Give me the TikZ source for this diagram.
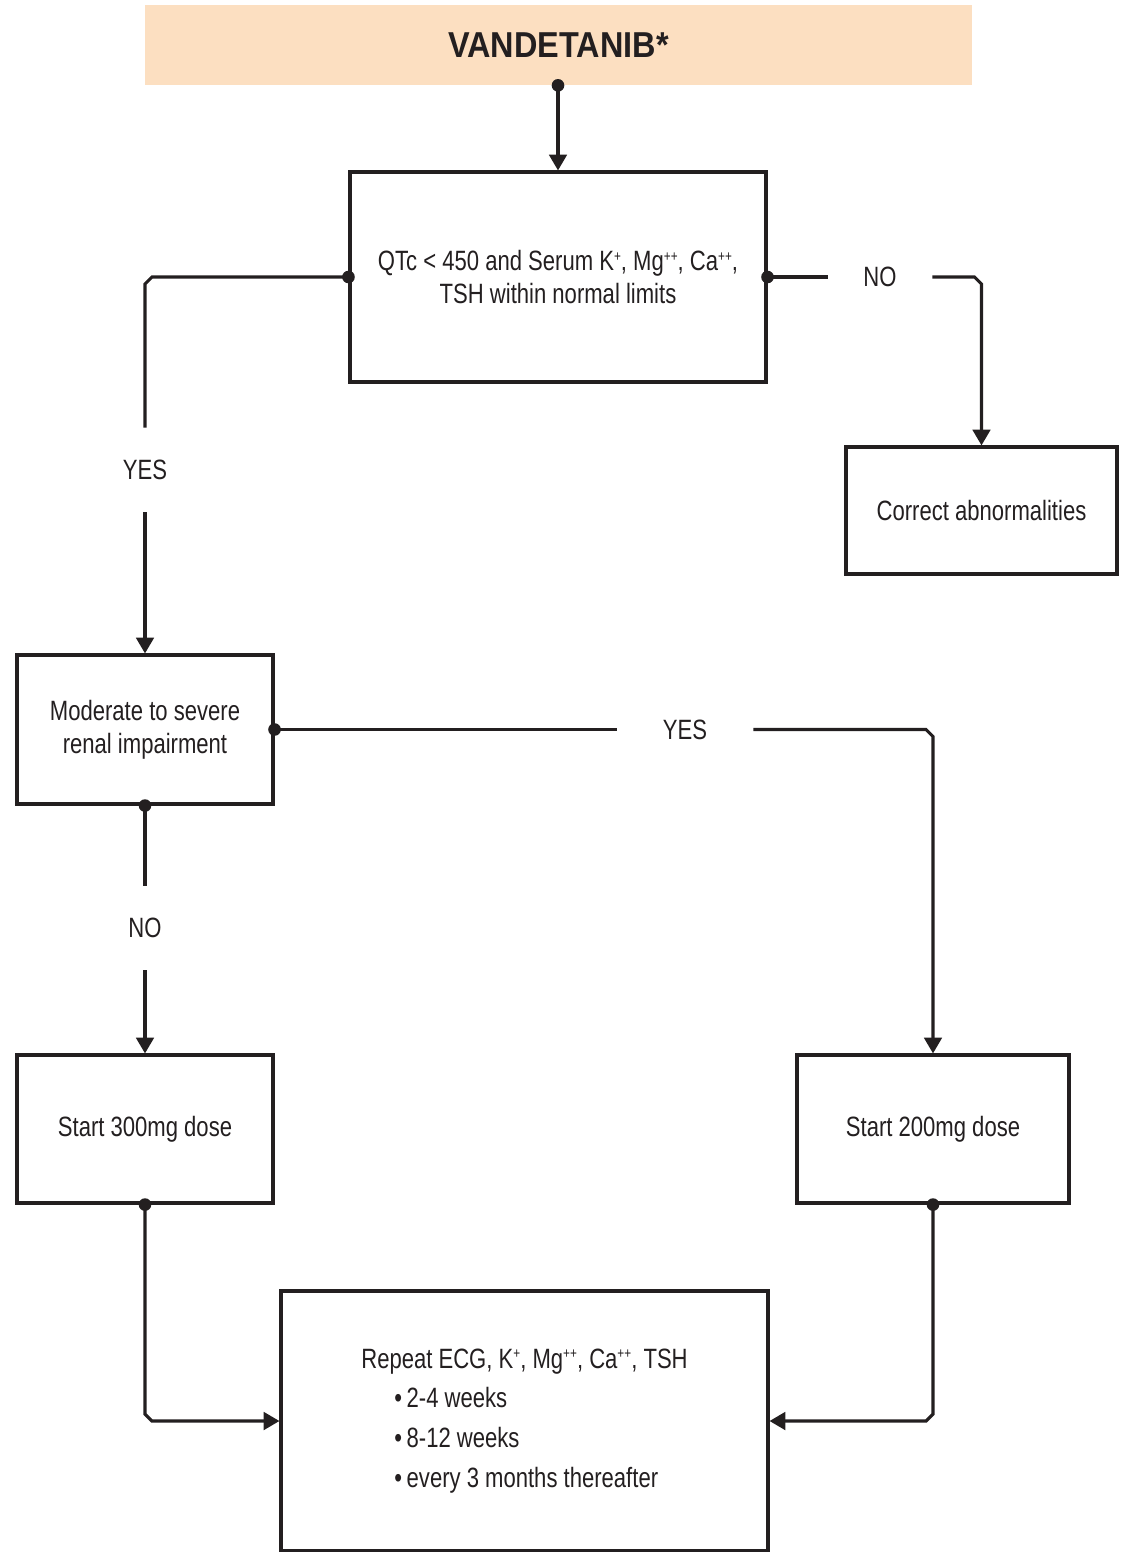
\documentclass[tikz,border=0pt]{standalone}
\usepackage{fontspec}
\setmainfont[FakeStretch=0.79]{Liberation Sans}
\newfontfamily\headfont[FakeStretch=0.9]{Liberation Sans}
\usetikzlibrary{arrows.meta,calc}
\definecolor{ink}{HTML}{231F20}
\definecolor{peach}{HTML}{FCDFC1}
% small raised plus signs for ion charges
\newcommand{\sps}[1]{\raisebox{0.62ex}{\fontsize{8.5}{8.5}\selectfont #1}}
\begin{document}
\begin{tikzpicture}[x=0.02cm,y=-0.02cm,
  box/.style={draw=ink, line width=1.8pt, fill=white, inner sep=0pt, align=center,
    text=ink, font=\fontsize{15.9}{18.7}\selectfont},
  lbl/.style={inner sep=0pt, text=ink, font=\fontsize{15.9}{18.7}\selectfont},
  vlbl/.style={lbl, minimum height=1.68cm},
  link/.style={draw=ink, line width=1.8pt},
  flow/.style={link, -{Triangle[width=10pt,length=9pt]}},
  joint/.style={fill=ink}]
\useasboundingbox (0,0) rectangle (1134,1552);

% boxes
\node[fill=peach, minimum width=16.54cm, minimum height=1.6cm, inner sep=0pt,
      text=ink, font=\headfont\bfseries\fontsize{20.5}{24}\selectfont]
  (head) at (558.5,45) {VANDETANIB*};
\node[box, minimum width=8.32cm, minimum height=4.2cm] (qtc) at (558,277)
  {QTc < 450 and Serum K\sps{+}, Mg\sps{++}, Ca\sps{++},\\TSH within normal limits};
\node[box, minimum width=5.42cm, minimum height=2.54cm] (fix) at (981.5,510.5)
  {Correct abnormalities};
\node[box, minimum width=5.12cm, minimum height=2.98cm] (renal) at (145,729.5)
  {Moderate to severe\\renal impairment};
\node[box, minimum width=5.12cm, minimum height=2.96cm] (s300) at (145,1129)
  {Start 300mg dose};
\node[box, minimum width=5.44cm, minimum height=2.96cm] (s200) at (933,1129)
  {Start 200mg dose};
\node[box, minimum width=9.74cm, minimum height=5.2cm, align=left,
      font=\fontsize{15.9}{22.7}\selectfont] (rep) at (524.5,1421)
  {Repeat ECG, K\sps{+}, Mg\sps{++}, Ca\sps{++}, TSH\\
   \hspace*{0.66cm}\textbullet\,2-4 weeks\\
   \hspace*{0.66cm}\textbullet\,8-12 weeks\\
   \hspace*{0.66cm}\textbullet\,every 3 months thereafter};

% branch labels
\node[vlbl] (yesA) at (145,470) {YES};
\node[lbl, minimum width=2.08cm] (noA) at (880,277) {NO};
\node[lbl, minimum width=2.72cm] (yesB) at (685,729.5) {YES};
\node[vlbl] (noB) at (145,928) {NO};

% connectors
\coordinate (hd) at (head.south -| qtc.north);
\draw[flow] (hd) -- (qtc.north);

\draw[link] (qtc.west) -- ($(qtc.west -| yesA.north)+(7,0)$)
  -- ($(qtc.west -| yesA.north)+(0,7)$) -- (yesA.north);
\draw[flow] (yesA.south) -- (renal.north);

\draw[link] (qtc.east) -- (noA.west);
\draw[flow] (noA.east) -- ($(noA.east -| fix.north)+(-7,0)$)
  -- ($(noA.east -| fix.north)+(0,7)$) -- (fix.north);

\draw[link] (renal.east) -- (yesB.west);
\draw[flow] (yesB.east) -- ($(yesB.east -| s200.north)+(-7,0)$)
  -- ($(yesB.east -| s200.north)+(0,7)$) -- (s200.north);

\draw[link] (renal.south) -- (noB.north);
\draw[flow] (noB.south) -- (s300.north);

\draw[flow] (s300.south) -- ($(s300.south |- rep.west)+(0,-7)$)
  -- ($(s300.south |- rep.west)+(7,0)$) -- (rep.west);
\draw[flow] (s200.south) -- ($(s200.south |- rep.east)+(0,-7)$)
  -- ($(s200.south |- rep.east)+(-7,0)$) -- (rep.east);

% junction dots
\foreach \p in {hd, qtc.west, qtc.east, renal.east, renal.south, s300.south, s200.south}
  \fill[joint] (\p) circle (3.6pt);
\end{tikzpicture}
\end{document}
